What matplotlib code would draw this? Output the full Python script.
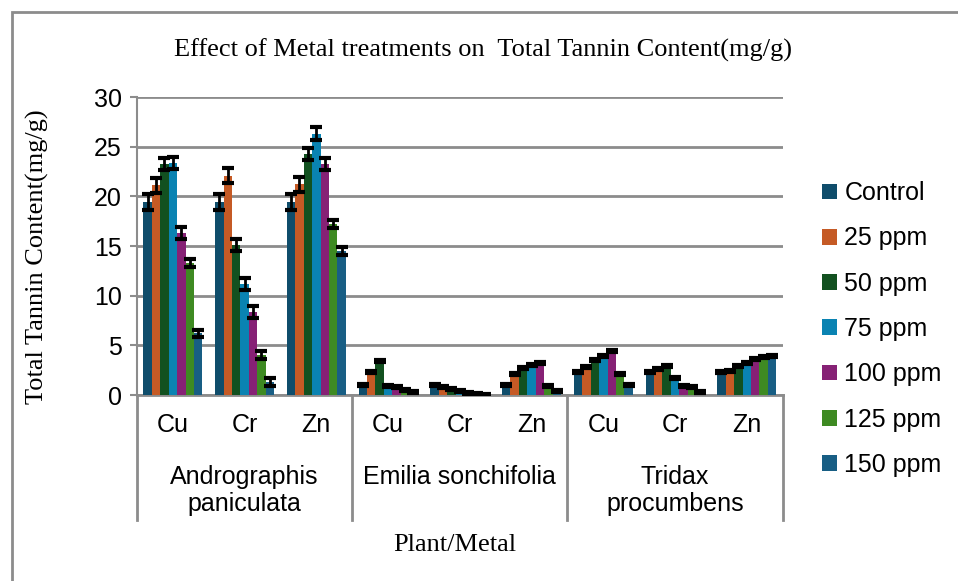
import numpy as np
import matplotlib.pyplot as plt
import matplotlib.patches as mpatches
from matplotlib.transforms import blended_transform_factory

plants = ["Andrographis\npaniculata", "Emilia sonchifolia", "Tridax\nprocumbens"]
metals = ["Cu", "Cr", "Zn"]
series = ["Control", "25 ppm", "50 ppm", "75 ppm", "100 ppm", "125 ppm", "150 ppm"]
colors = ["#0F4D6B", "#C55A25", "#125120", "#0A83B2", "#862175", "#3E8A22", "#185E84"]

# one list per series, 9 groups: A.p. Cu/Cr/Zn, E.s. Cu/Cr/Zn, T.p. Cu/Cr/Zn
control = [19.4, 19.4, 19.4, 1.0, 1.05, 1.05, 2.3, 2.3, 2.3]
ppm25 = [21.1, 22.1, 21.2, 2.35, 0.8, 2.1, 2.8, 2.6, 2.4]
ppm50 = [23.3, 15.1, 24.3, 3.4, 0.6, 2.7, 3.5, 2.9, 2.9]
ppm75 = [23.4, 11.2, 26.3, 0.95, 0.4, 3.0, 3.9, 1.75, 3.2]
ppm100 = [16.3, 8.4, 23.3, 0.85, 0.25, 3.25, 4.4, 0.95, 3.6]
ppm125 = [13.3, 4.0, 17.2, 0.55, 0.1, 0.9, 2.1, 0.85, 3.8]
ppm150 = [6.2, 1.3, 14.5, 0.3, 0.05, 0.4, 1.05, 0.3, 3.9]

err_control = [0.8, 0.8, 0.8, 0.1, 0.1, 0.1, 0.1, 0.1, 0.1]
err_25 = [0.8, 0.8, 0.8, 0.1, 0.1, 0.1, 0.1, 0.1, 0.1]
err_50 = [0.6, 0.6, 0.6, 0.1, 0.1, 0.1, 0.1, 0.1, 0.1]
err_75 = [0.6, 0.6, 0.65, 0.1, 0.1, 0.1, 0.1, 0.1, 0.1]
err_100 = [0.6, 0.6, 0.6, 0.1, 0.1, 0.1, 0.1, 0.1, 0.1]
err_125 = [0.4, 0.4, 0.4, 0.1, 0.1, 0.1, 0.1, 0.1, 0.1]
err_150 = [0.4, 0.4, 0.4, 0.1, 0.1, 0.1, 0.1, 0.1, 0.1]

values = [control, ppm25, ppm50, ppm75, ppm100, ppm125, ppm150]
errors = [err_control, err_25, err_50, err_75, err_100, err_125, err_150]

serif = "Liberation Serif"
sans = "Liberation Sans"
grey = "#8C8C8C"

fig = plt.figure(figsize=(9.58, 5.81), dpi=100)
ax = fig.add_axes([0.143, 0.320, 0.674, 0.513])

# outer chart frame
fig.patches.append(mpatches.Rectangle((12 / 958, -0.05), 1.2, 1 - 12 / 581 + 0.05,
                                      transform=fig.transFigure, fill=False,
                                      edgecolor=grey, linewidth=2))

x = np.arange(9)
w = 1 / 8.5
for i, (vals, errs) in enumerate(zip(values, errors)):
    ax.bar(x + (i - 3) * w, vals, w, color=colors[i], label=series[i], zorder=3,
           yerr=errs, error_kw=dict(ecolor="black", elinewidth=2, capsize=4.5, capthick=3, zorder=4))

ax.set_xlim(-0.5, 8.5)
ax.set_ylim(0, 30)
ax.set_yticks(range(0, 31, 5))
ax.tick_params(axis="y", labelsize=18, length=5, width=1.5, color=grey, pad=6)
for lbl in ax.get_yticklabels():
    lbl.set_fontfamily(sans)
ax.set_xticks([])
ax.grid(axis="y", color=grey, linewidth=2, zorder=0)
for s in ["top", "right"]:
    ax.spines[s].set_visible(False)
ax.spines["left"].set_color(grey)
ax.spines["left"].set_linewidth(1.5)
ax.spines["bottom"].set_color(grey)
ax.spines["bottom"].set_linewidth(2)

# multi-level category axis
tr = blended_transform_factory(ax.transData, ax.transAxes)
for sep in [-0.5, 2.5, 5.5, 8.5]:
    ax.plot([sep, sep], [0, -0.42], transform=tr, color=grey, linewidth=2, clip_on=False)
for k in range(9):
    ax.text(k, -0.10, metals[k % 3], transform=tr, ha="center", va="center",
            fontsize=18, fontfamily=sans)
for p, name in enumerate(plants):
    ax.text(3 * p + 1, -0.235, name, transform=tr, ha="center", va="top",
            fontsize=18, fontfamily=sans, linespacing=1.15)

ax.set_ylabel("Total Tannin Content(mg/g)", fontsize=19, fontfamily=serif)
ax.yaxis.set_label_coords((49 - 137) / 646, (395 - 257) / 298)
fig.text(455 / 958, 1 - 545 / 581, "Plant/Metal", ha="center", va="center",
         fontsize=19, fontfamily=serif)
fig.text(483 / 958, 1 - 50 / 581, "Effect of Metal treatments on  Total Tannin Content(mg/g)",
         ha="center", va="center", fontsize=19, fontfamily=serif)

ax.legend(loc="center left", bbox_to_anchor=(812 / 958, 1 - 329 / 581),
          bbox_transform=fig.transFigure, frameon=False,
          prop={"family": sans, "size": 18}, handlelength=0.6, handleheight=0.6,
          handletextpad=0.3, labelspacing=0.85, borderaxespad=0.0)

fig.savefig("out.png", dpi=100)
